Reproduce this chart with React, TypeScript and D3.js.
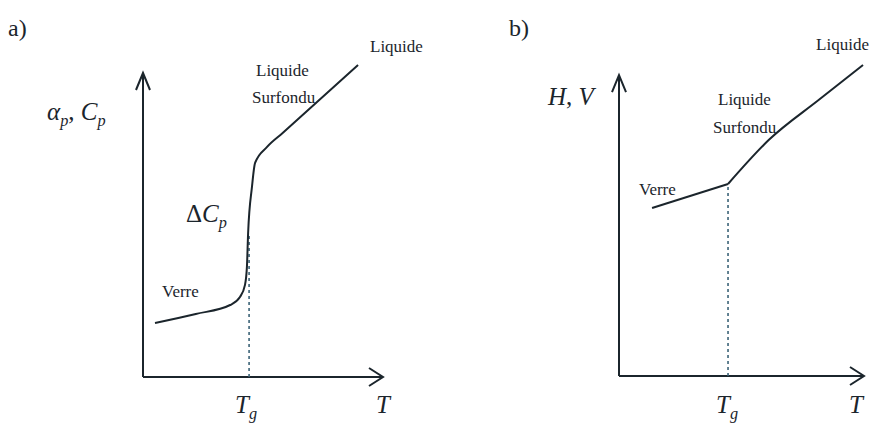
import React from 'react';
import * as d3 from 'd3';

// panel a : alpha_p, Cp vs T (glass transition)
const tempA = [0.5, 2.2, 3.63, 4.04, 4.25, 4.33, 4.38, 4.54, 4.67, 5.17, 5.83, 8.96];
const cpA = [1.69, 1.97, 2.25, 2.5, 2.88, 3.44, 4.5, 5.94, 6.69, 7.19, 7.63, 9.75];
const tgA = 4.42;
const tgLevelA = 4.5;

// panel b : H, V vs T  (glass branch, then supercooled liquid branch)
const tempGlassB = [1.35, 4.45];
const hvGlassB = [5.25, 6.0];
const tempLiqB = [4.45, 6.12, 8.16, 9.96];
const hvLiqB = [6.0, 7.38, 8.63, 9.72];
const tgB = 4.45;
const tgLevelB = 6.0;

const WIDTH = 871;
const HEIGHT = 426;
const INK = '#1b252c';
const SERIF = '"Liberation Serif"';

type Pt = [number, number];
type Series = { xs: number[]; ys: number[]; curve: d3.CurveFactory };

function Panel(props: {
  x0: number; x1: number; y0: number; y1: number;
  series: Series[]; tg: number; tgLevel: number; yTop: number;
}) {
  const x = d3.scaleLinear().domain([0, 10]).range([props.x0, props.x1]);
  const y = d3.scaleLinear().domain([0, 10]).range([props.y0, props.y1]);
  const top = y(props.yTop);
  return (
    <g>
      <line x1={x(0)} y1={y(0)} x2={x(0)} y2={top} stroke={INK} strokeWidth={2} />
      <line x1={x(0)} y1={y(0)} x2={x(10)} y2={y(0)} stroke={INK} strokeWidth={2} />
      <path d={`M${x(0) - 7},${top + 17} L${x(0)},${top} L${x(0) + 7},${top + 17}`}
        fill="none" stroke={INK} strokeWidth={2} />
      <path d={`M${x(10) - 14},${y(0) - 9} L${x(10)},${y(0)} L${x(10) - 14},${y(0) + 9}`}
        fill="none" stroke={INK} strokeWidth={2} />
      <line x1={x(props.tg)} y1={y(0)} x2={x(props.tg)} y2={y(props.tgLevel)}
        stroke="#3d6478" strokeWidth={1.6} strokeDasharray="3,3" />
      {props.series.map((s, i) => {
        const pts: Pt[] = s.xs.map((v, j) => [v, s.ys[j]]);
        const line = d3.line<Pt>().x(d => x(d[0])).y(d => y(d[1])).curve(s.curve);
        return <path key={i} d={line(pts) || ''} fill="none" stroke={INK} strokeWidth={2} strokeLinejoin="round" />;
      })}
    </g>
  );
}

function Label({ t, x, y, size = 17, anchor = 'start' }: { t: string; x: number; y: number; size?: number; anchor?: string }) {
  return (
    <text x={x} y={y} fill={INK} textAnchor={anchor} style={{ fontFamily: SERIF, fontSize: `${size}px` }}>
      {t}
    </text>
  );
}

type Part = { t: string; sub?: boolean; italic?: boolean };

function MathLabel({ parts, x, y, size }: { parts: Part[]; x: number; y: number; size: number }) {
  let down = false;
  return (
    <text x={x} y={y} fill={INK} style={{ fontFamily: SERIF, fontSize: `${size}px` }}>
      {parts.map((p, i) => {
        let dy = 0;
        if (p.sub) { dy = down ? 0 : 6; down = true; }
        else { dy = down ? -6 : 0; down = false; }
        return (
          <tspan key={i} dy={dy}
            style={{ fontStyle: p.italic === false ? 'normal' : 'italic', fontSize: p.sub ? `${size * 0.65}px` : undefined }}>
            {p.t}
          </tspan>
        );
      })}
    </text>
  );
}

function App() {
  return (
    <svg width={WIDTH} height={HEIGHT} style={{ position: 'absolute', left: 0, top: 0, background: '#fff' }}>
      {/* panel a */}
      <Panel x0={143} x1={383} y0={377} y1={57} yTop={9.5} tg={tgA} tgLevel={tgLevelA}
        series={[{ xs: tempA, ys: cpA, curve: d3.curveMonotoneX }]} />
      <Label t="a)" x={8} y={36} size={24} />
      <MathLabel parts={[{ t: 'α' }, { t: 'p', sub: true }, { t: ', ', italic: false }, { t: 'C' }, { t: 'p', sub: true }]} x={47} y={120} size={25} />
      <MathLabel parts={[{ t: 'Δ', italic: false }, { t: 'C' }, { t: 'p', sub: true }]} x={186} y={222} size={25} />
      <Label t="Verre" x={162} y={297} />
      <Label t="Liquide" x={256} y={76} />
      <Label t="Surfondu" x={252} y={103} />
      <Label t="Liquide" x={370} y={52} />
      <MathLabel parts={[{ t: 'T' }, { t: 'g', sub: true }]} x={235} y={413} size={25} />
      <MathLabel parts={[{ t: 'T' }]} x={376} y={413} size={25} />

      {/* panel b */}
      <Panel x0={619} x1={864} y0={376} y1={56} yTop={9.4} tg={tgB} tgLevel={tgLevelB}
        series={[
          { xs: tempGlassB, ys: hvGlassB, curve: d3.curveLinear },
          { xs: tempLiqB, ys: hvLiqB, curve: d3.curveMonotoneX },
        ]} />
      <Label t="b)" x={509} y={36} size={24} />
      <MathLabel parts={[{ t: 'H' }, { t: ', ', italic: false }, { t: 'V' }]} x={548} y={105} size={25} />
      <Label t="Verre" x={639} y={195} />
      <Label t="Liquide" x={718} y={105} />
      <Label t="Surfondu" x={713} y={133} />
      <Label t="Liquide" x={869} y={50} anchor="end" />
      <MathLabel parts={[{ t: 'T' }, { t: 'g', sub: true }]} x={716} y={413} size={25} />
      <MathLabel parts={[{ t: 'T' }]} x={849} y={413} size={25} />
    </svg>
  );
}

export default App;
